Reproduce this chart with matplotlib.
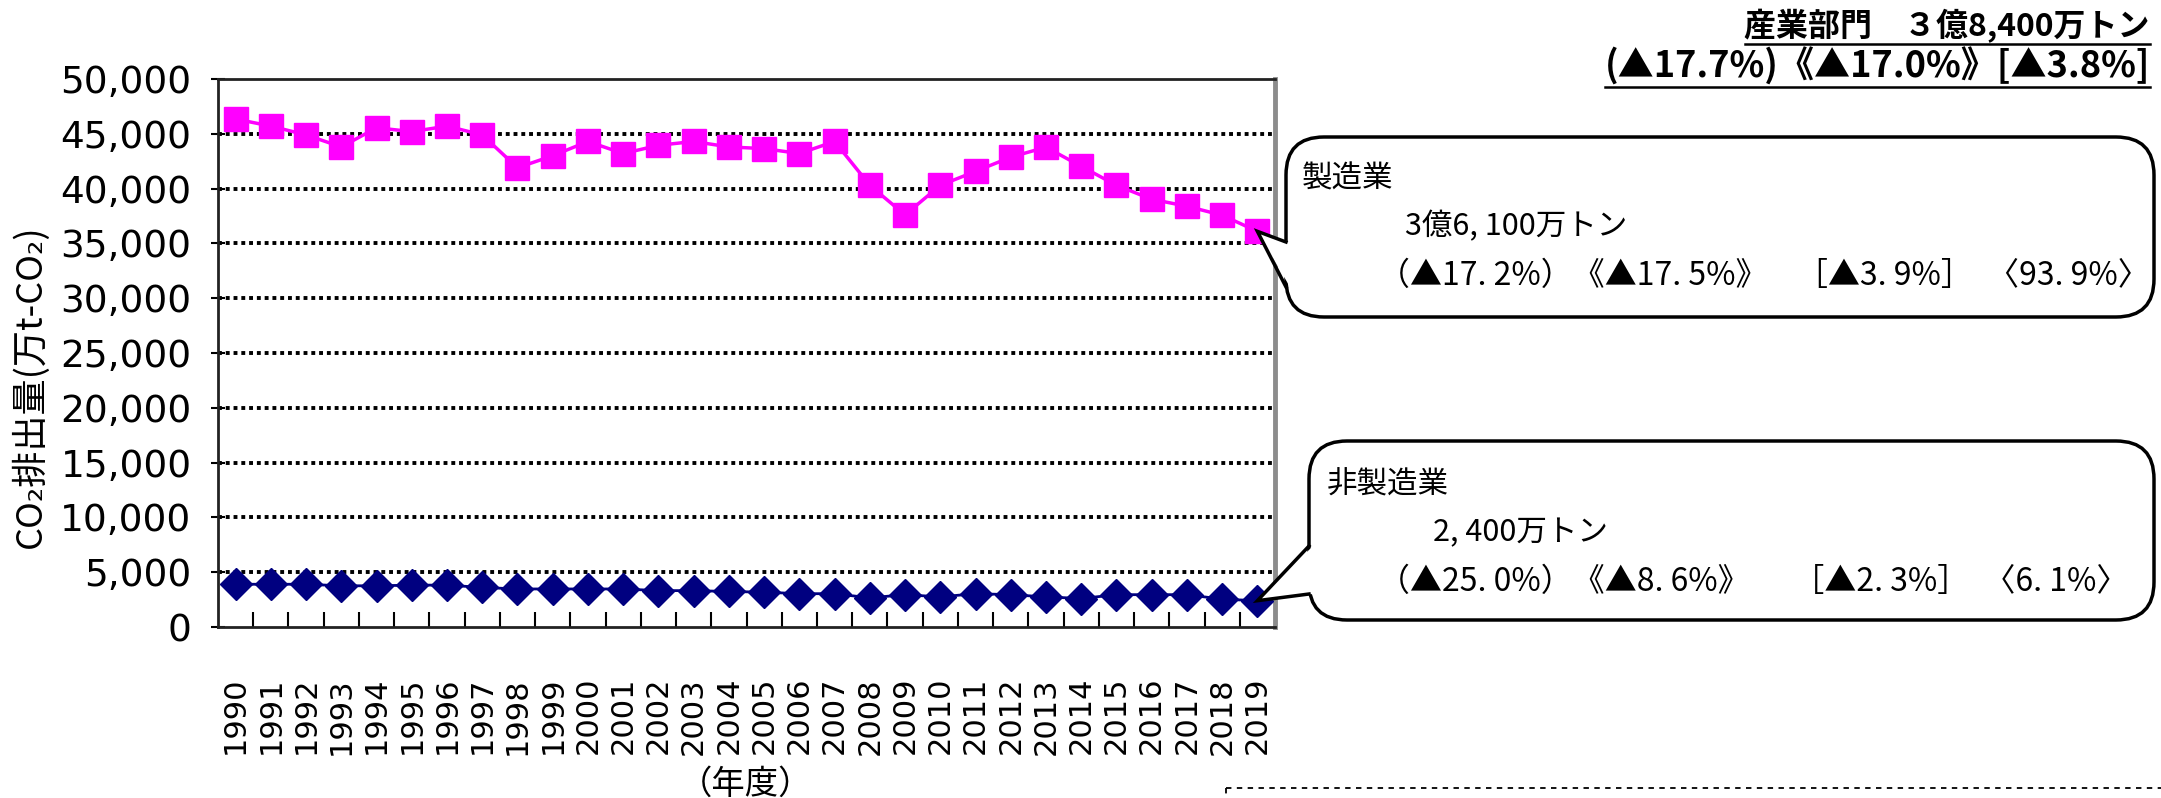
import numpy as np
import matplotlib
matplotlib.use("Agg")
import matplotlib.pyplot as plt
from matplotlib.patches import FancyBboxPatch, Polygon
from matplotlib.ticker import FuncFormatter

CJK = ["Noto Sans CJK JP", "DejaVu Sans"]

# --- data (万t-CO2) ---
years = ["1990", "1991", "1992", "1993", "1994", "1995", "1996", "1997", "1998", "1999",
         "2000", "2001", "2002", "2003", "2004", "2005", "2006", "2007", "2008", "2009",
         "2010", "2011", "2012", "2013", "2014", "2015", "2016", "2017", "2018", "2019"]
manufacturing = [46350, 45700, 44900, 43800, 45550, 45200, 45700, 44900, 41900, 43000,
                 44300, 43200, 43950, 44300, 43800, 43650, 43200, 44300, 40300, 37600,
                 40300, 41570, 42870, 43780, 42030, 40300, 39030, 38390, 37570, 36100]
non_manufacturing = [3900, 3900, 3900, 3760, 3760, 3820, 3820, 3610, 3470, 3470,
                     3470, 3470, 3320, 3320, 3240, 3180, 3040, 3040, 2660, 2950,
                     2750, 3040, 2950, 2750, 2600, 2950, 2950, 2950, 2540, 2400]
y_ticks = [0, 5000, 10000, 15000, 20000, 25000, 30000, 35000, 40000, 45000, 50000]

title_lines = ["産業部門　３億8,400万トン", "(▲17.7%)《▲17.0%》[▲3.8%]"]
manu_text = ["製造業", "3億6, 100万トン",
             "（▲17. 2%）《▲17. 5%》    ［▲3. 9%］  〈93. 9%〉"]
nonmanu_text = ["非製造業", "2, 400万トン",
                "（▲25. 0%）《▲8. 6%》      ［▲2. 3%］  〈6. 1%〉"]

W, H = 2161, 798
fig = plt.figure(figsize=(W / 100, H / 100), dpi=100)

# --- main axes ---
ax = fig.add_axes([218 / W, 1 - 627 / H, (1275 - 218) / W, (627 - 79) / H])
x = np.arange(len(years))

for yv in y_ticks[1:-1]:
    ax.axhline(yv, color="black", lw=2.8, ls=(0, (1, 1)), zorder=1)

ax.plot(x, manufacturing, color="#FF00FF", lw=2.5, marker="s", ms=17, mec="#FF00FF", zorder=4)
ax.plot(x, non_manufacturing, color="#000080", lw=2, marker="D", ms=16, mec="#000080", zorder=4)

ax.set_xlim(-0.5, len(years) - 0.5)
ax.set_ylim(0, 50000)
ax.set_yticks(y_ticks)
ax.yaxis.set_major_formatter(FuncFormatter(lambda v, p: f"{int(v):,}"))
ax.tick_params(axis="y", direction="inout", length=10, width=1.5, labelsize=27, pad=14)

ax.set_xticks(x)
ax.set_xticklabels(years, rotation=90, fontsize=22)
ax.tick_params(axis="x", which="major", length=0, pad=36)
ax.set_xticks(x[:-1] + 0.5, minor=True)
ax.tick_params(axis="x", which="minor", direction="in", length=11, width=1.5)

for s in ["left", "top", "bottom"]:
    ax.spines[s].set_color("#222222")
    ax.spines[s].set_linewidth(2)
ax.spines["right"].set_color("#8c8c8c")
ax.spines["right"].set_linewidth(3.5)

# axis labels
fig.text(30 / W, 1 - 386 / H, "CO₂排出量(万t-CO₂)", rotation=90, ha="center", va="center",
         fontsize=26, family=CJK)
fig.text(746 / W, 1 - 784 / H, "（年度）", ha="center", va="center", fontsize=24, family=CJK)

# --- overlay in pixel coords (top-left origin) ---
ov = fig.add_axes([0, 0, 1, 1], zorder=5)
ov.set_xlim(0, W)
ov.set_ylim(H, 0)
ov.axis("off")
ov.patch.set_alpha(0)


def to_px(xv, yv):
    px, py = ax.transData.transform((xv, yv))
    return px, H - py


def callout(left, top, right, bottom, a1, a2, tip):
    box = FancyBboxPatch((left, top), right - left, bottom - top,
                         boxstyle="round,pad=0,rounding_size=38",
                         fc="white", ec="black", lw=2.5, zorder=6)
    ov.add_patch(box)
    ov.add_patch(Polygon([(left + 4, a1), tip, (left + 4, a2)], closed=True,
                         fc="white", ec="none", zorder=7))
    ov.plot([left, tip[0], left], [a1, tip[1], a2], color="black", lw=2.5, zorder=8,
            solid_joinstyle="miter")


tip1 = to_px(len(years) - 1, manufacturing[-1])
tip2 = to_px(len(years) - 1, non_manufacturing[-1])
callout(1286, 137, 2154, 317, 242, 287, tip1)
callout(1309, 441, 2154, 620, 546, 594, tip2)

for (tx, ty), s, fs in zip([(1302, 179), (1405, 227), (1378, 276)], manu_text, [22, 22, 23]):
    ov.text(tx, ty, s, fontsize=fs, va="center", ha="left", family=CJK, zorder=9)
for (tx, ty), s, fs in zip([(1327, 485), (1433, 533), (1378, 582)], nonmanu_text, [22, 22, 23]):
    ov.text(tx, ty, s, fontsize=fs, va="center", ha="left", family=CJK, zorder=9)

# title, top right, bold + underline
t1 = ov.text(2150, 26, title_lines[0], fontsize=23, fontweight="bold", ha="right",
             va="center", family=CJK, zorder=9)
t2 = ov.text(2150, 67, title_lines[1], fontsize=26, fontweight="bold", ha="right",
             va="center", family=CJK, zorder=9)
fig.canvas.draw()
for t in (t1, t2):
    bb = t.get_window_extent()
    yl = H - bb.y0 + 1
    ov.plot([bb.x0, bb.x1], [yl, yl], color="black", lw=1.8, zorder=9)

# dashed edge of the box below
ov.plot([1226, W], [788, 788], color="black", lw=1.3, ls=(0, (3, 3)), zorder=9)
ov.plot([1226, 1226], [788, H], color="black", lw=1.3, ls=(0, (3, 3)), zorder=9)

fig.savefig("out.png", dpi=100)
